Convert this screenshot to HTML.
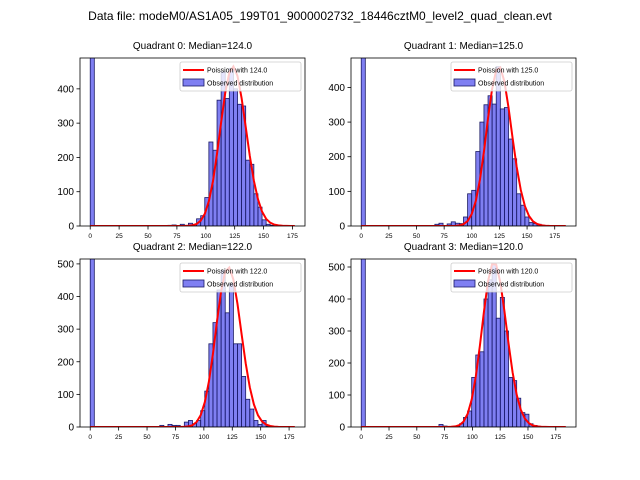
<!DOCTYPE html>
<html><head><meta charset="utf-8"><style>
body{margin:0;background:#fff;}
svg{display:block;font-family:"Liberation Sans","DejaVu Sans",sans-serif;}
</style></head><body>
<svg id="fig" width="640" height="480" viewBox="0 0 640 480">
<rect width="640" height="480" fill="#fff"/>
<text x="320" y="20" text-anchor="middle" font-size="12">Data file: modeM0/AS1A05_199T01_9000002732_18446cztM0_level2_quad_clean.evt</text>
</svg>
<script>
// ----- data -----
const panelTitles = ["Quadrant 0: Median=124.0","Quadrant 1: Median=125.0","Quadrant 2: Median=122.0","Quadrant 3: Median=120.0"];
const medians = [124.0,125.0,122.0,120.0];
const dataMax = [177,185,180,184];
const yMax = [490,485,515,525];
const yTicks0 = [0,100,200,300,400];
const yTicks1 = [0,100,200,300,400];
const yTicks2 = [0,100,200,300,400,500];
const yTicks3 = [0,100,200,300,400,500];
const xTicks = [0,25,50,75,100,125,150,175];
const counts0 = {0:5000,18:1,19:2,20:3,21:1,22:5,23:2,24:8,25:5,26:21,27:30,28:83,29:245,30:221,31:367,32:450,33:372,34:460,35:400,36:355,37:350,38:192,39:180,40:94,41:55,42:18,43:5,44:2};
const counts1 = {0:5000,18:5,19:8,21:6,22:12,23:8,24:7,25:26,26:93,27:103,28:215,29:300,30:350,31:376,32:352,33:460,34:338,35:342,36:251,37:194,38:93,39:60,40:26,41:10,42:7,43:5,44:2};
const counts2 = {0:5000,17:5,19:8,20:5,21:5,23:15,24:20,25:10,26:20,27:50,28:110,29:255,30:320,31:420,32:480,33:350,34:440,35:255,36:255,37:155,38:85,39:55,40:20,41:8,42:20,43:2};
const counts3 = {0:5000,19:8,20:3,23:3,24:10,25:30,26:50,27:155,28:225,29:235,30:400,31:460,32:510,33:340,34:405,35:300,36:155,37:145,38:90,39:45,40:40,41:10,42:5,43:2};
const curvePeak = [465,460,490,515];
const nBins = 50;
// ----- layout -----
const boxes = [{x:80,y:58,w:225,h:168},{x:351,y:58,w:225,h:168},{x:80,y:259,w:225,h:168},{x:351,y:259,w:225,h:168}];
const allCounts=[counts0,counts1,counts2,counts3];
const allYTicks=[yTicks0,yTicks1,yTicks2,yTicks3];
const NS="http://www.w3.org/2000/svg";
const fig=document.getElementById('fig');
function mk(tag,attrs,parent){const e=document.createElementNS(NS,tag);for(const k in attrs)e.setAttribute(k,attrs[k]);(parent||fig).appendChild(e);return e;}
function lgamma(z){const c=[76.18009172947146,-86.50532032941677,24.01409824083091,-1.231739572450155,0.1208650973866179e-2,-0.5395239384953e-5];let x=z,y=z,t=x+5.5;t-=(x+0.5)*Math.log(t);let s=1.000000000190015;for(let j=0;j<6;j++)s+=c[j]/++y;return -t+Math.log(2.5066282746310005*s/x);}
function pois(k,l){return Math.exp(k*Math.log(l)-l-lgamma(k+1));}
boxes.forEach((b,p)=>{
  const g=mk('g',{});
  
  
  const m=dataMax[p]*0.05, x0=-m, x1=dataMax[p]+m;
  const X=v=>b.x+(v-x0)/(x1-x0)*b.w;
  const Y=v=>b.y+b.h-(v/yMax[p])*b.h;
  const clip=mk('clipPath',{id:'c'+p},g);mk('rect',{x:b.x,y:b.y,width:b.w,height:b.h},clip);
  const t=mk('text',{x:b.x+b.w/2,y:b.y-9,'text-anchor':'middle','font-size':'10'},g);t.textContent=panelTitles[p];
  
  const bw=dataMax[p]/nBins;
  const cg=mk('g',{'clip-path':'url(#c'+p+')'},g);
  const cs=allCounts[p];
  for(const k in cs){const i=+k,v=cs[k];const xa=X(i*bw),xb=X((i+1)*bw);
    const r=mk('rect',{x:xa,y:Y(v),width:xb-xa,height:Y(0)-Y(v),fill:'rgba(0,0,230,0.5)',stroke:'#1a1a66','stroke-width':'0.8'},cg);
    }
  const lam=medians[p], scale=curvePeak[p]/pois(Math.floor(lam),lam);
  let d='';for(let i=0;i<=nBins;i++){const v=i*bw;d+=(i?'L':'M')+X(v).toFixed(1)+','+Y(pois(v,lam)*scale).toFixed(1);}
  const pl=mk('path',{d:d,fill:'none',stroke:'#ff0000','stroke-width':'2'},cg);
  
  mk('rect',{x:b.x,y:b.y,width:b.w,height:b.h,fill:'none',stroke:'#000','stroke-width':'0.8'},g);
  allYTicks[p].forEach(v=>{mk('line',{x1:b.x,x2:b.x-3.5,y1:Y(v),y2:Y(v),stroke:'#000','stroke-width':'0.8'},g);
    const tt=mk('text',{x:b.x-6,y:Y(v)+3.5,'text-anchor':'end','font-size':'10'},g);tt.textContent=v;
    });
  xTicks.forEach(v=>{mk('line',{x1:X(v),x2:X(v),y1:b.y+b.h,y2:b.y+b.h+3.5,stroke:'#000','stroke-width':'0.8'},g);
    const tt=mk('text',{x:X(v),y:b.y+b.h+12,'text-anchor':'middle','font-size':'6.5'},g);tt.textContent=v;
    });
  const lg=mk('g',{},g);
  const lx=b.x+b.w-125,ly=b.y+4;
  mk('rect',{x:lx,y:ly,width:121,height:29,fill:'rgba(255,255,255,0.8)',stroke:'#ccc','stroke-width':'0.8',rx:2},lg);
  mk('line',{x1:lx+3,x2:lx+24,y1:ly+8,y2:ly+8,stroke:'#ff0000','stroke-width':'2'},lg);
  const l1=mk('text',{x:lx+27,y:ly+10.5,'font-size':'7'},lg);l1.textContent='Poission with '+medians[p].toFixed(1);
  
  mk('rect',{x:lx+3,y:ly+17,width:21,height:7,fill:'rgba(0,0,230,0.5)',stroke:'#1a1a66','stroke-width':'0.8'},lg);
  const l2=mk('text',{x:lx+27,y:ly+23.5,'font-size':'7'},lg);l2.textContent='Observed distribution';
  
});
</script>
</body></html>
